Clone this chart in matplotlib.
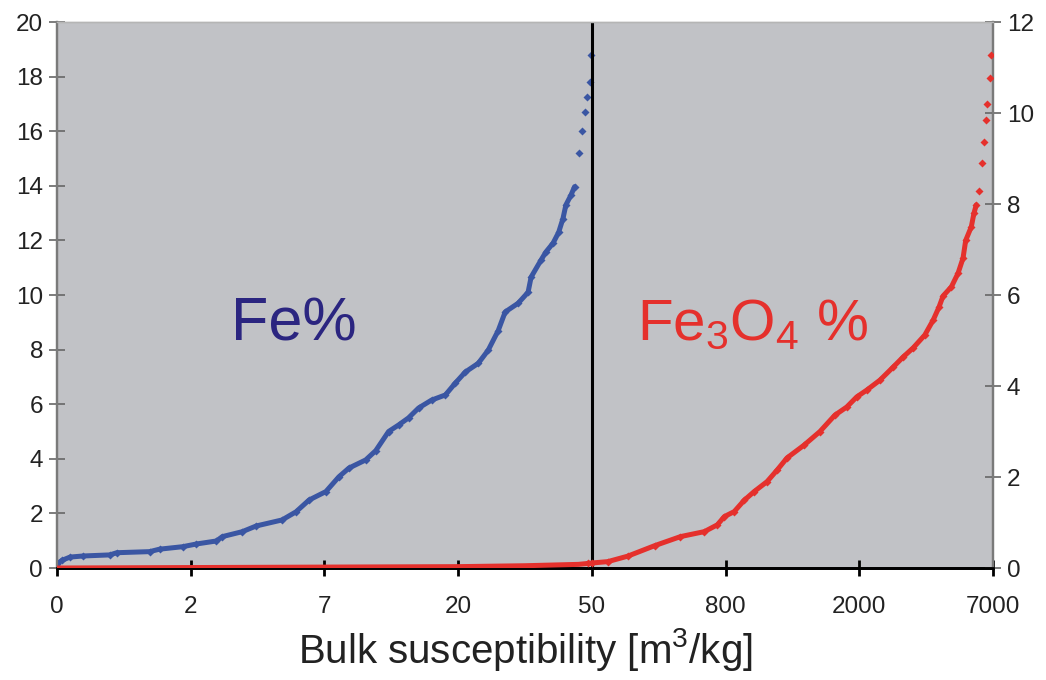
import matplotlib
matplotlib.use('Agg')
import matplotlib.pyplot as plt
import numpy as np

plt.rcParams['font.family'] = ['Liberation Sans', 'DejaVu Sans']
plt.rcParams['mathtext.fontset'] = 'custom'
plt.rcParams['mathtext.rm'] = 'Liberation Sans'
plt.rcParams['mathtext.default'] = 'rm'

# category positions on the x axis and their labels
tick_pos = [0, 1, 2, 3, 4, 5, 6, 7]
tick_labels = ['0', '2', '7', '20', '50', '800', '2000', '7000']

# Fe% (left axis), sorted samples, x = position on the categorical axis
fe_x = [0.000, 0.037, 0.097, 0.194, 0.395, 0.447, 0.693, 0.767, 0.939, 1.043,
        1.192, 1.237, 1.385, 1.490, 1.683, 1.788, 1.885, 2.011, 2.108, 2.183,
        2.309, 2.384, 2.480, 2.555, 2.629, 2.704, 2.801, 2.905, 2.980, 3.054,
        3.151, 3.225, 3.300, 3.352, 3.449, 3.523, 3.546, 3.620, 3.657, 3.710,
        3.752, 3.784, 3.806, 3.844, 3.871]
fe_y = [0.15, 0.28, 0.40, 0.44, 0.48, 0.56, 0.60, 0.69, 0.78, 0.88,
        0.99, 1.15, 1.33, 1.54, 1.76, 2.06, 2.49, 2.80, 3.34, 3.66,
        3.96, 4.30, 5.00, 5.24, 5.50, 5.86, 6.15, 6.34, 6.78, 7.18,
        7.50, 7.98, 8.70, 9.38, 9.70, 10.10, 10.66, 11.28, 11.58, 11.90,
        12.30, 12.80, 13.30, 13.66, 13.97]
# sparse top samples
fe_tail_x = [3.903, 3.926, 3.948, 3.963, 3.983, 3.990]
fe_tail_y = [15.20, 16.00, 16.70, 17.25, 17.80, 18.80]

# Fe3O4 % (right axis)
mag_x = [0.0, 1.0, 2.0, 3.0, 3.5, 3.9, 3.970, 4.000, 4.119, 4.268,
         4.469, 4.663, 4.842, 4.939, 4.991, 5.065, 5.140, 5.214, 5.311, 5.385,
         5.460, 5.587, 5.706, 5.818, 5.907, 5.981, 6.056, 6.155, 6.255, 6.329,
         6.404, 6.490, 6.553, 6.597, 6.627, 6.689, 6.739, 6.776, 6.796, 6.838,
         6.858, 6.875]
mag_y = [0.00, 0.01, 0.02, 0.03, 0.05, 0.08, 0.10, 0.11, 0.14, 0.26,
         0.49, 0.69, 0.80, 0.95, 1.13, 1.24, 1.49, 1.68, 1.90, 2.15,
         2.42, 2.70, 3.00, 3.36, 3.54, 3.76, 3.91, 4.13, 4.42, 4.64,
         4.84, 5.12, 5.45, 5.74, 5.98, 6.18, 6.48, 6.81, 7.20, 7.50,
         7.80, 7.98]
mag_tail_x = [6.892, 6.920, 6.930, 6.945, 6.957, 6.975, 6.987]
mag_tail_y = [8.29, 8.90, 9.36, 9.85, 10.20, 10.76, 11.27]

blue = '#3a56a3'
red = '#e5302c'

fig = plt.figure(figsize=(10.46, 6.8), dpi=100)
ax = fig.add_axes([0.0545, 0.1647, 0.8948, 0.8029])
ax2 = ax.twinx()

ax.set_facecolor('#c1c2c6')
ax.set_zorder(ax2.get_zorder() - 1)
ax2.patch.set_visible(False)

# Fe% series
ax.plot(fe_x, fe_y, '-', color=blue, lw=3.6, solid_capstyle='round', zorder=3)
ax.plot(fe_x, fe_y, 'D', color=blue, ms=4, mec='none', zorder=3)
ax.plot(fe_tail_x, fe_tail_y, 'D', color=blue, ms=4, mec='none', zorder=3)

# Fe3O4 series
ax2.plot(mag_x, mag_y, '-', color=red, lw=3.6, solid_capstyle='round', zorder=3)
ax2.plot(mag_x[6:], mag_y[6:], 'D', color=red, ms=4, mec='none', zorder=3)
ax2.plot(mag_tail_x, mag_tail_y, 'D', color=red, ms=4, mec='none', zorder=3)

ax.axvline(4, color='black', lw=2.2, zorder=4)

ax.set_xlim(0, 7)
ax.set_ylim(0, 20)
ax2.set_ylim(0, 12)
ax.set_xticks(tick_pos)
ax.set_xticklabels(tick_labels)
ax.set_yticks(np.arange(0, 21, 2))
ax2.set_yticks(np.arange(0, 13, 2))

ax.tick_params(axis='x', direction='inout', length=12, width=2, color='black',
               labelsize=17.5, pad=14, labelcolor='#222222')
ax.tick_params(axis='y', direction='inout', length=12, width=1.2, color='#666666',
               labelsize=17.5, pad=4, labelcolor='#222222')
ax2.tick_params(axis='y', direction='inout', length=12, width=1.2, color='#666666',
                labelsize=17.5, pad=4, labelcolor='#222222')

for a in (ax, ax2):
    a.spines['left'].set_color('#7a7a7a')
    a.spines['left'].set_linewidth(1.6)
    a.spines['right'].set_color('#7a7a7a')
    a.spines['right'].set_linewidth(1.6)
    a.spines['top'].set_color('#b5b5b5')
    a.spines['top'].set_linewidth(1.0)
    a.spines['bottom'].set_color('black')
    a.spines['bottom'].set_linewidth(2)

ax.text(1.77, 8.35, 'Fe%', color='#2b2580', fontsize=44, ha='center', va='baseline')
ax.text(5.2, 8.35, r'Fe$_3$O$_4$ %', color=red, fontsize=42, ha='center', va='baseline')

ax.set_xlabel(r'Bulk susceptibility [m$^3$/kg]', fontsize=29, labelpad=6, color='#222222')

fig.savefig('out.png', dpi=100)
